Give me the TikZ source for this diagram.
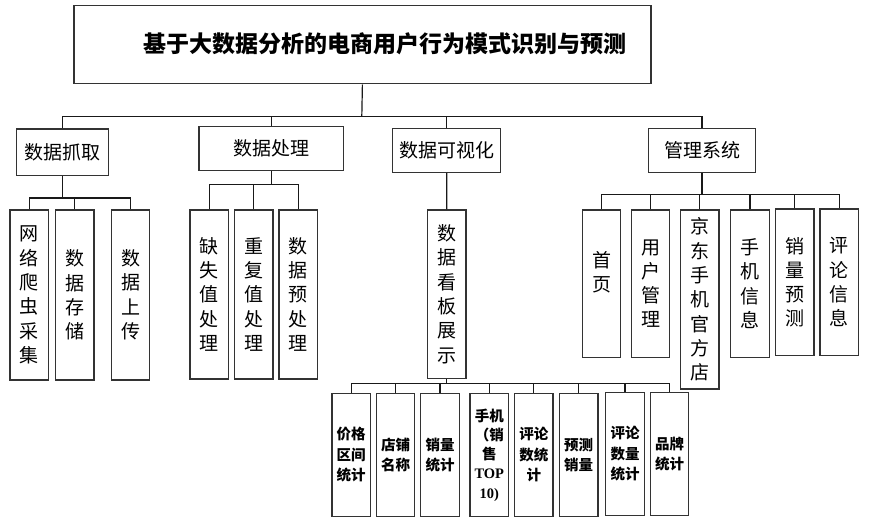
\documentclass[tikz,border=0pt]{standalone}
\usepackage{fontspec}
\setmainfont{Noto Sans CJK SC}
\newfontfamily\latf{Liberation Serif}
\begin{document}
\begin{tikzpicture}[x=1pt,y=-1pt,
  frame/.style={draw=black!80,line width=1.2pt,inner sep=0pt},
  box/.style={frame,anchor=north,minimum width=38.5pt,align=center},
  lone/.style={frame,anchor=north,font=\fontsize{19}{19}\selectfont},
  vt/.style={box,font=\fontsize{19}{24.3}\selectfont},
  bt/.style={box,font=\bfseries\fontsize{14.5}{20.5}\selectfont,minimum height=123.3pt},
  link/.style={draw=black!90,line width=1.2pt}]
\useasboundingbox (0,0) rectangle (877,532);
% root
\node[frame,anchor=north west,minimum width=577pt,minimum height=78pt] (top) at (73.3,5.3) {};
\node[font=\bfseries\fontsize{23}{23}\selectfont,inner sep=0pt] (title) at (385,43.5) {基于大数据分析的电商用户行为模式识别与预测};
% level 1
\node[lone,minimum width=91.6pt,minimum height=46.7pt] (l1a) at (62.5,128.3) {数据抓取};
\node[lone,minimum width=144.3pt,minimum height=44pt] (l1b) at (271.2,126) {数据处理};
\node[lone,minimum width=108pt,minimum height=44pt] (l1c) at (446.7,127.7) {数据可视化};
\node[lone,minimum width=107.4pt,minimum height=44pt] (l1d) at (702,127.7) {管理系统};
\coordinate (b0) at (361.8,116.5);
\draw[link] (top.south) -- (b0);
\draw[link] (l1a.north) |- (b0) -| (l1d.north);
\draw[link] (l1b.north) -- (l1b.north |- b0);
\draw[link] (l1c.north) -- (l1c.north |- b0);
% under 数据抓取
\node[vt,minimum height=170pt] (a1) at (29.2,209.3) {网\\络\\爬\\虫\\采\\集};
\node[vt,minimum height=170pt] (a2) at (74.7,209.3) {数\\据\\存\\储};
\node[vt,minimum height=170pt] (a3) at (130.5,209.3) {数\\据\\上\\传};
\coordinate (ba) at (62.5,198);
\draw[link] (l1a.south) -- (ba);
\draw[link] (a1.north) |- (ba) -| (a3.north);
\draw[link] (a2.north) -- (a2.north |- ba);
% under 数据处理
\node[vt,minimum height=169pt] (b1) at (209.3,209.3) {缺\\失\\值\\处\\理};
\node[vt,minimum height=169pt] (b2) at (253.8,209.3) {重\\复\\值\\处\\理};
\node[vt,minimum height=169pt] (b3) at (298.3,209.3) {数\\据\\预\\处\\理};
\coordinate (bb) at (271.2,184.3);
\draw[link] (l1b.south) -- (bb);
\draw[link] (b1.north) |- (bb) -| (b3.north);
\draw[link] (b2.north) -- (b2.north |- bb);
% under 数据可视化
\node[vt,minimum height=168.4pt] (c1) at (446.8,209.3) {数\\据\\看\\板\\展\\示};
\draw[link] (l1c.south) -- (c1.north);
% under 管理系统
\node[vt,minimum height=147.4pt] (d1) at (601.5,209.3) {首\\页\\~};
\node[vt,minimum height=147.4pt] (d2) at (650.5,209.3) {用\\户\\管\\理};
\node[vt,minimum height=179pt] (d3) at (699.7,209.3) {京\\东\\手\\机\\官\\方\\店};
\node[vt,minimum height=147.4pt] (d4) at (750,209.3) {手\\机\\信\\息};
\node[vt,minimum height=146.7pt] (d5) at (794.7,208.3) {销\\量\\预\\测};
\node[vt,minimum height=146.7pt] (d6) at (839.3,208.3) {评\\论\\信\\息};
\coordinate (bd) at (702,194.3);
\draw[link] (l1d.south) -- (bd);
\draw[link] (d1.north) |- (bd) -| (d6.north);
\foreach \n in {d2,d3,d4,d5} \draw[link] (\n.north) -- (\n.north |- bd);
% bottom row
\node[bt] (e1) at (351.2,392.7) {价格\\区间\\统计};
\node[bt] (e2) at (395.5,392.7) {店铺\\名称};
\node[bt] (e3) at (440,392.7) {销量\\统计};
\node[bt,font=\bfseries\fontsize{14.5}{19.3}\selectfont] (e4) at (489.3,392.7) {手机\\（销\\售\\{\latf\bfseries TOP}\\{\latf\bfseries 10)}};
\node[bt] (e5) at (533.8,392.7) {评论\\数统\\计};
\node[bt] (e6) at (578.7,392.7) {预测\\销量};
\node[bt] (e7) at (625,391.7) {评论\\数量\\统计};
\node[bt] (e8) at (669.5,391.7) {品牌\\统计};
\coordinate (be) at (446.8,383.3);
\draw[link] (c1.south) -- (be);
\draw[link] (e1.north) |- (be) -| (e8.north);
\foreach \n in {e2,e3,e4,e5,e6,e7} \draw[link] (\n.north) -- (\n.north |- be);
\end{tikzpicture}
\end{document}
